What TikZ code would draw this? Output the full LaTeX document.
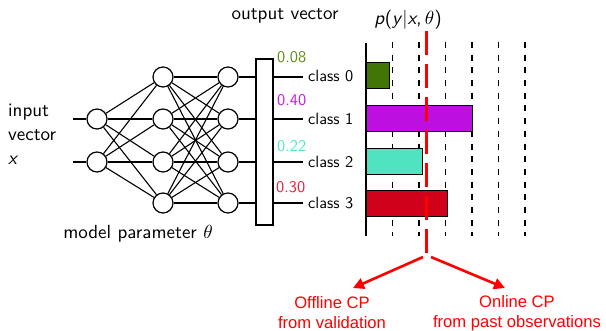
\documentclass[tikz,border=0pt]{standalone}
\usepackage{fix-cm}
\usepackage{fontspec}
\setsansfont{lmsans10-regular.otf}[ItalicFont=lmsans10-oblique.otf, BoldFont=lmsans10-bold.otf]
\newfontfamily\cpfont{Liberation Sans}
% keep the 10pt designs of the math fonts at every size
\DeclareFontShape{OML}{cmm}{m}{it}{<->cmmi10}{\skewchar\font127}
\DeclareFontShape{OMS}{cmsy}{m}{n}{<->cmsy10}{\skewchar\font48}
\usetikzlibrary{arrows.meta}

\definecolor{barzero}{HTML}{417505}
\definecolor{barone}{HTML}{BD10E0}
\definecolor{bartwo}{HTML}{50E3C2}
\definecolor{barthree}{HTML}{D0021B}
\definecolor{numzero}{HTML}{5E8C16}
\definecolor{numone}{HTML}{C61BE6}
\definecolor{numtwo}{HTML}{55E6C6}
\definecolor{numthree}{HTML}{E5203A}

\tikzset{
  neuron/.style={circle, draw, line width=1.2pt, minimum size=20pt, inner sep=0pt, fill=white},
  wire/.style={line width=1.1pt},
  biglabel/.style={font=\sffamily\fontsize{19}{23}\selectfont, inner sep=0pt},
  classlabel/.style={font=\sffamily\fontsize{16.3}{19}\selectfont, inner sep=0pt, anchor=west},
  problabel/.style={font=\sffamily\fontsize{16.3}{19}\selectfont, inner sep=0pt, anchor=west},
  bar/.style={draw=black, line width=1pt},
  gridline/.style={line width=1.1pt, dash pattern=on 6pt off 6.7pt},
  threshold/.style={draw=red, line width=3pt, dash pattern=on 24pt off 9pt},
  cparrow/.style={draw=red, line width=2.6pt, -{Triangle[length=11pt,width=11pt]}},
  cptext/.style={text=red, font=\cpfont\fontsize{16.6}{20}\selectfont, align=center, inner sep=0pt}
}

\begin{document}
\begin{tikzpicture}[x=1pt, y=-1pt]
\useasboundingbox (0,0) rectangle (606,331);

% input layer
\node[neuron] (a1) at (97,119) {};
\node[neuron] (a2) at (97,162) {};
% hidden layers
\foreach \i/\yy in {1/77,2/119,3/162,4/203} {
  \node[neuron] (b\i) at (163,\yy) {};
  \node[neuron] (c\i) at (228,\yy) {};
}
% softmax / output box
\node[draw, line width=1.2pt, minimum width=17pt, minimum height=166pt, inner sep=0pt] (box) at (264.5,142) {};

% input wires
\coordinate (in1) at (73,119);
\coordinate (in2) at (73,162);
\draw[wire] (in1) -- (a1);
\draw[wire] (in2) -- (a2);

% fully connected layers
\foreach \i in {1,2} \foreach \j in {1,2,3,4} \draw[wire] (a\i) -- (b\j);
\foreach \i in {1,2,3,4} \foreach \j in {1,2,3,4} \draw[wire] (b\i) -- (c\j);

% into and out of the output box
\foreach \i/\yy/\name in {1/76/class 0,2/119/class 1,3/162/class 2,4/203/class 3} {
  \draw[wire] (c\i) -- (c\i -| box.west);
  \node[classlabel] (cls\i) at (308,\yy) {\name};
  \draw[wire] (box.east |- c\i) -- ([xshift=-5pt]cls\i.west |- c\i);
}

% probabilities
\node[problabel, text=numzero]  (p0) at (277,57)  {0.08};
\node[problabel, text=numone]   (p1) at (277,100) {0.40};
\node[problabel, text=numtwo]   (p2) at (277,146) {0.22};
\node[problabel, text=numthree] (p3) at (276,187) {0.30};

% labels (sans-serif math, as in slides)
\node[biglabel, anchor=base west] (lin)  at (8,117) {input};
\node[biglabel, anchor=base west] (lvec) at (8,141) {vector};
\node[biglabel, anchor=base west] (lx)   at (8,165) {\itshape x};
\node[biglabel] (lmodel) at (138,234) {model parameter $\theta$};
\node[biglabel] (lout) at (285,16) {output vector};
\node[biglabel] (lpy) at (408,20) {\textit{p}(\textit{y}$|$\textit{x},\,$\theta$)};

% histogram grid
\foreach \k in {1,...,6} \draw[gridline] ({366+26.5*\k},42) -- ({366+26.5*\k},236);

% bars
\draw[bar, fill=barzero]  (366,63)  rectangle (389,89);
\draw[bar, fill=barone]   (366,106) rectangle (472,132);
\draw[bar, fill=bartwo]   (366,149) rectangle (422,175);
\draw[bar, fill=barthree] (366,191) rectangle (447,217);

% axis
\draw[line width=1.3pt] (366,43) -- (366,236);

% threshold
\coordinate (thtop) at (426,31);
\coordinate (thbot) at (426,255);
\draw[threshold] (thtop) -- (thbot);

% conformal prediction branches
\coordinate (forkl) at (423,257);
\coordinate (forkr) at (431,257);
\coordinate (tipl) at (353,288);
\coordinate (tipr) at (505,288);
\draw[cparrow] (forkl) -- (tipl);
\draw[cparrow] (forkr) -- (tipr);
\node[cptext] (offline) at (332,313) {Offline CP\\from validation};
\node[cptext] (online)  at (517,313) {Online CP\\from past observations};
\end{tikzpicture}
\end{document}
